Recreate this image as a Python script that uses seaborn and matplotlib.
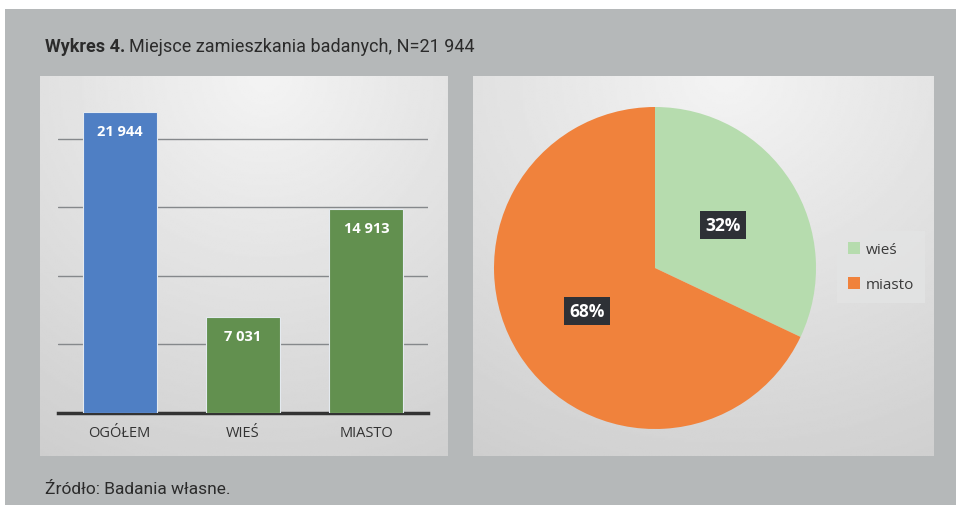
import numpy as np
import matplotlib
matplotlib.use("Agg")
import matplotlib.pyplot as plt
import seaborn as sns

# data
categories = ["OGÓŁEM", "WIEŚ", "MIASTO"]
counts = [21944, 7031, 14913]
bar_labels = ["21 944", "7 031", "14 913"]
pie_names = ["wieś", "miasto"]
pie_values = [7031, 14913]
pie_labels = ["32%", "68%"]

sns.set_theme(style="white")
plt.rcParams["font.family"] = ["Roboto", "DejaVu Sans"]

W, H = 959, 506
fig = plt.figure(figsize=(W / 100, H / 100), dpi=100)
fig.patch.set_facecolor("white")


def px_axes(x0, y0, x1, y1, **kw):
    """ axes placed by pixel box (top-left origin) """
    return fig.add_axes([x0 / W, (H - y1) / H, (x1 - x0) / W, (y1 - y0) / H], **kw)


# grey card
bg = px_axes(5, 10, 956, 506)
bg.set_facecolor("#b5b8b9")
bg.set_xticks([])
bg.set_yticks([])
for s in bg.spines.values():
    s.set_visible(False)


def gradient_panel(x0, y0, x1, y1):
    ax = px_axes(x0, y0, x1, y1)
    yy, xx = np.mgrid[0:1:200j, 0:1:200j]
    d = np.sqrt(((xx - 0.55) * 0.9) ** 2 + (yy * 0.85) ** 2)
    img = 0.955 - 0.15 * np.clip(d, 0, 1)
    ax.imshow(img, cmap="gray", vmin=0, vmax=1, aspect="auto",
              extent=[0, 1, 1, 0], interpolation="bilinear")
    ax.set_axis_off()
    return ax


gradient_panel(40, 77, 448, 457)
gradient_panel(473, 77, 934, 457)

# bar chart
ax = px_axes(58, 85, 428, 414)
ax.patch.set_alpha(0)
sns.barplot(x=categories, y=counts, hue=categories, legend=False,
            palette=["#4f7fc4", "#62904f", "#62904f"], saturation=1, width=0.6,
            edgecolor="#e4eaf0", linewidth=0.8, ax=ax, zorder=3)
ax.set_ylim(0, 24000)
ax.set_xlim(-0.5, 2.5)
ax.set_yticks([5000, 10000, 15000, 20000])
ax.yaxis.grid(True, color="#85888b", linewidth=1.0)
ax.set_axisbelow(True)
ax.set_yticklabels([])
ax.tick_params(axis="y", length=0)
ax.tick_params(axis="x", length=0, pad=9)
for lbl in ax.get_xticklabels():
    lbl.set_family(["Open Sans", "DejaVu Sans"])
    lbl.set_fontsize(10.5)
    lbl.set_color("#333333")
ax.set_xlabel("")
ax.set_ylabel("")
for side in ["top", "right", "left"]:
    ax.spines[side].set_visible(False)
ax.spines["bottom"].set_color("#333333")
ax.spines["bottom"].set_linewidth(2.5)
for i, (v, t) in enumerate(zip(counts, bar_labels)):
    ax.text(i, v - 1400, t, ha="center", va="center", color="white",
            fontsize=10.5, fontweight="bold", family=["Open Sans", "DejaVu Sans"],
            zorder=5)

# pie chart
pax = px_axes(494, 108, 816, 430)
wedges, texts = pax.pie(pie_values, colors=["#b6dcae", "#f0823c"], startangle=90,
                        counterclock=False, labels=pie_labels, labeldistance=0.5,
                        wedgeprops=dict(linewidth=0))
for t in texts:
    t.set_color("white")
    t.set_fontsize(12.5)
    t.set_fontweight("bold")
    t.set_family(["Open Sans", "DejaVu Sans"])
    t.set_ha("center")
    t.set_va("center")
    t.set_bbox(dict(boxstyle="square,pad=0.3", facecolor="#2e3136",
                    edgecolor="none"))
pax.set_xlim(-1, 1)
pax.set_ylim(-1, 1)
pax.set_aspect("equal")

leg = fig.legend(wedges, pie_names, loc="center", bbox_to_anchor=(881 / W, 1 - 268 / H),
                 frameon=True, fancybox=False, handlelength=0.8, handleheight=0.8,
                 handletextpad=0.4, labelspacing=1.3, borderpad=0.7,
                 prop={"family": ["Open Sans", "DejaVu Sans"], "size": 11})
leg.get_frame().set_facecolor("#e3e4e4")
leg.get_frame().set_edgecolor("none")
for t in leg.get_texts():
    t.set_color("#3b3b3b")

# title and footer
fig.canvas.draw()
renderer = fig.canvas.get_renderer()
t1 = fig.text(45 / W, 1 - 47 / H, "Wykres 4.", fontsize=13, fontweight="bold",
              color="#2b2b2b", va="center", ha="left")
fig.canvas.draw()
bb = t1.get_window_extent(renderer)
fig.text(bb.x1 / W + 4 / W, 1 - 47 / H, "Miejsce zamieszkania badanych, N=21 944",
         fontsize=13, color="#2b2b2b", va="center", ha="left")
fig.text(45 / W, 1 - 490 / H, "Źródło: Badania własne.", fontsize=12.5,
         color="#2b2b2b", va="center", ha="left")

fig.savefig("out.png", dpi=100)
